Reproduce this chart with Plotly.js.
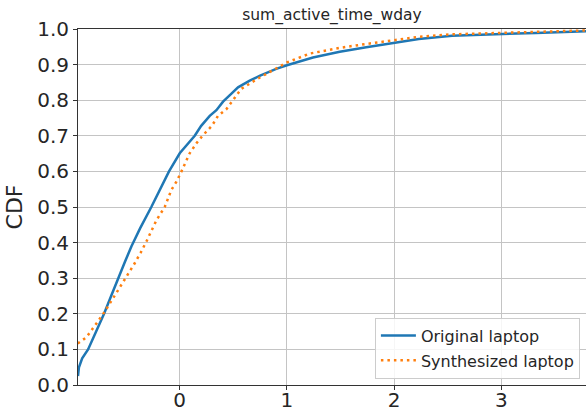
<!DOCTYPE html>
<html>
<head>
<meta charset="utf-8">
<script src="https://cdn.plot.ly/plotly-3.0.1.min.js"></script>
<style>
  html, body { margin: 0; padding: 0; background: #ffffff; }
  #chart { width: 586px; height: 412px; }
</style>
</head>
<body>
<div id="chart"></div>
<script>
// Series names
var seriesNames = ["Original laptop", "Synthesized laptop"];

// Original laptop CDF (x values, CDF values)
var originalX = [-0.949, -0.94, -0.91, -0.855, -0.78, -0.706, -0.64, -0.575, -0.51, -0.451, -0.37, -0.265, -0.2, -0.1, 0.0, 0.093, 0.14, 0.2, 0.28, 0.342, 0.404, 0.48, 0.544, 0.653, 0.75, 0.9, 1.0, 1.243, 1.493, 1.74, 2.0, 2.23, 2.54, 3.0, 3.32, 3.79];
var originalY = [0.025, 0.05, 0.075, 0.1, 0.15, 0.2, 0.25, 0.3, 0.347, 0.389, 0.44, 0.5, 0.539, 0.6, 0.651, 0.683, 0.7, 0.728, 0.756, 0.772, 0.796, 0.818, 0.836, 0.855, 0.869, 0.888, 0.898, 0.92, 0.936, 0.949, 0.961, 0.972, 0.981, 0.985, 0.989, 0.994];

// Synthesized laptop CDF (x values, CDF values)
var synthX = [-0.951, -0.87, -0.777, -0.7, -0.613, -0.544, -0.482, -0.42, -0.364, -0.311, -0.217, -0.14, -0.078, -0.031, 0.016, 0.093, 0.156, 0.212, 0.3, 0.357, 0.436, 0.497, 0.575, 0.731, 0.902, 1.0, 1.213, 1.493, 1.74, 2.0, 2.23, 2.54, 3.0, 3.32, 3.79];
var synthY = [0.117, 0.134, 0.173, 0.206, 0.248, 0.281, 0.309, 0.342, 0.372, 0.403, 0.463, 0.5, 0.548, 0.571, 0.6, 0.651, 0.679, 0.7, 0.728, 0.756, 0.775, 0.8, 0.832, 0.861, 0.891, 0.906, 0.931, 0.947, 0.958, 0.969, 0.978, 0.985, 0.989, 0.992, 0.996];

// Tick labels
var xTickVals = [0, 1, 2, 3];
var xTickText = ["0", "1", "2", "3"];
var yTickVals = [0, 0.1, 0.2, 0.3, 0.4, 0.5, 0.6, 0.7, 0.8, 0.9, 1.0];
var yTickText = ["0.0", "0.1", "0.2", "0.3", "0.4", "0.5", "0.6", "0.7", "0.8", "0.9", "1.0"];

var chartTitle = "sum_active_time_wday";
var yTitle = "CDF";

var FONT = "DejaVu Sans, sans-serif";
var TXT = "#262626";

var traces = [
  {
    x: originalX, y: originalY, type: "scatter", mode: "lines",
    name: seriesNames[0], legendgroup: "a",
    line: { color: "#1f77b4", width: 2.5 }
  },
  {
    x: synthX, y: synthY, type: "scatter", mode: "lines",
    name: seriesNames[1], legendgroup: "b",
    line: { color: "#ff7f0e", width: 2.5, dash: "2.5px,4px" }
  }
];

var layout = {
  width: 586, height: 412,
  margin: { l: 78, r: 0, t: 29, b: 27, pad: 0 },
  paper_bgcolor: "#ffffff", plot_bgcolor: "#ffffff",
  font: { family: FONT, color: TXT },
  title: {
    text: chartTitle,
    font: { family: FONT, size: 15.5, color: TXT },
    xref: "paper", x: 0.5, xanchor: "center",
    yref: "container", y: 0.965, yanchor: "middle"
  },
  showlegend: true,
  legend: {
    x: 0.988, xanchor: "right", y: 0.018, yanchor: "bottom",
    bgcolor: "rgba(255,255,255,0.85)", bordercolor: "#cccccc", borderwidth: 1,
    font: { family: FONT, size: 16, color: TXT },
    tracegroupgap: 1, itemwidth: 35
  },
  xaxis: {
    range: [-0.949, 3.79], tickmode: "array", tickvals: xTickVals, ticktext: xTickText,
    ticks: "outside", ticklen: 4, tickwidth: 1, tickcolor: "#333333",
    ticklabelstandoff: -7,
    showline: true, linecolor: "#333333", linewidth: 1, mirror: true,
    showgrid: true, gridcolor: "#c4c4c4", gridwidth: 1, zeroline: false,
    tickfont: { family: FONT, size: 20, color: TXT }
  },
  yaxis: {
    range: [0, 1], tickmode: "array", tickvals: yTickVals, ticktext: yTickText,
    ticks: "outside", ticklen: 4, tickwidth: 1, tickcolor: "#333333",
    showline: true, linecolor: "#333333", linewidth: 1,
    showgrid: true, gridcolor: "#c4c4c4", gridwidth: 1, zeroline: false,
    tickfont: { family: FONT, size: 20, color: TXT },
    title: { text: yTitle, font: { family: FONT, size: 22, color: TXT }, standoff: 8 }
  }
};

Plotly.newPlot("chart", traces, layout, { displayModeBar: false, staticPlot: true });
</script>
</body>
</html>
